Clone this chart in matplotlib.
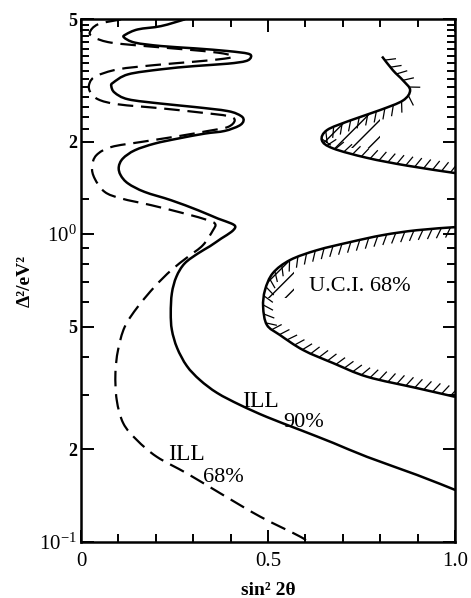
import numpy as np
import matplotlib
matplotlib.use("Agg")
import matplotlib.pyplot as plt
import matplotlib.patheffects as pe
from matplotlib.path import Path
from matplotlib.patches import PathPatch, Rectangle
from matplotlib.ticker import NullFormatter

plt.rcParams['font.family'] = ['Liberation Serif', 'DejaVu Serif']
plt.rcParams['mathtext.fontset'] = 'custom'
plt.rcParams['mathtext.rm'] = 'Liberation Serif'
plt.rcParams['mathtext.it'] = 'Liberation Serif:italic'
plt.rcParams['mathtext.bf'] = 'Liberation Serif:bold'
plt.rcParams['hatch.linewidth'] = 1.0

# ILL 90% (solid)
ill90_x = [0.277, 0.214, 0.152, 0.120, 0.115, 0.144, 0.214, 0.304, 0.393, 0.4465,
           0.4545, 0.441, 0.393, 0.304, 0.214, 0.126, 0.086, 0.081, 0.090, 0.126,
           0.214, 0.304, 0.393, 0.428, 0.4345, 0.4225, 0.384, 0.331, 0.259, 0.197,
           0.144, 0.112, 0.101, 0.106, 0.126, 0.170, 0.241, 0.313, 0.366, 0.402,
           0.4126, 0.402, 0.375, 0.345, 0.313, 0.277, 0.255, 0.243, 0.240, 0.243,
           0.257, 0.283, 0.318, 0.364, 0.425, 0.497, 0.586, 0.674, 0.765, 0.898, 1.0]
ill90_y = [4.99, 4.746, 4.63, 4.46, 4.36, 4.194, 4.088, 4.018, 3.937, 3.861,
           3.765, 3.654, 3.583, 3.519, 3.434, 3.308, 3.108, 3.03, 2.884, 2.744,
           2.657, 2.590, 2.512, 2.421, 2.336, 2.251, 2.165, 2.123, 2.045, 1.970,
           1.874, 1.762, 1.654, 1.555, 1.461, 1.372, 1.289, 1.196, 1.124, 1.083,
           1.056, 1.017, 0.968, 0.914, 0.866, 0.803, 0.727, 0.643, 0.554, 0.488,
           0.4266, 0.3728, 0.3357, 0.3047, 0.2786, 0.2545, 0.2310, 0.2097, 0.1888, 0.165, 0.1475]

# ILL 68% (dashed)
ill68_x = [0.107, 0.0455, 0.0233, 0.0366, 0.080, 0.170, 0.277, 0.366, 0.406, 0.384,
           0.304, 0.197, 0.099, 0.041, 0.0233, 0.0233, 0.0455, 0.099, 0.214, 0.321,
           0.393, 0.411, 0.393, 0.3396, 0.259, 0.161, 0.081, 0.041, 0.0294, 0.0366,
           0.0634, 0.1078, 0.188, 0.277, 0.3396, 0.359, 0.353, 0.326, 0.286, 0.2414,
           0.197, 0.152, 0.117, 0.099, 0.092, 0.0955, 0.113, 0.149, 0.2024, 0.2826,
           0.3717, 0.4786, 0.5856, 0.618]
ill68_y = [4.99, 4.81, 4.52, 4.35, 4.194, 4.088, 3.987, 3.89, 3.793, 3.72,
           3.637, 3.545, 3.434, 3.266, 3.108, 2.919, 2.744, 2.643, 2.565, 2.484,
           2.421, 2.345, 2.231, 2.165, 2.081, 1.994, 1.920, 1.805, 1.654, 1.516,
           1.372, 1.306, 1.242, 1.167, 1.110, 1.078, 1.030, 0.921, 0.844, 0.764,
           0.675, 0.581, 0.500, 0.420, 0.353, 0.289, 0.2428, 0.2144, 0.189, 0.167,
           0.1439, 0.1208, 0.1040, 0.0978]

# U.C.I. 68% upper island
uci_up_x = [0.805, 0.834, 0.861, 0.880, 0.861, 0.799, 0.719, 0.658, 0.644, 0.674,
            0.765, 0.872, 1.0]
uci_up_y = [3.78, 3.41, 3.16, 2.94, 2.72, 2.53, 2.34, 2.18, 2.02, 1.90,
            1.77, 1.67, 1.58]

# U.C.I. 68% lower region
uci_lo_x = [1.0, 0.898, 0.807, 0.719, 0.631, 0.559, 0.513, 0.492, 0.487, 0.497,
            0.532, 0.594, 0.674, 0.765, 0.898, 1.0]
uci_lo_y = [1.054, 1.03, 0.993, 0.942, 0.887, 0.824, 0.747, 0.658, 0.580, 0.507,
            0.470, 0.420, 0.381, 0.344, 0.316, 0.296]

y_major = [0.1, 0.2, 0.5, 1.0, 2.0, 5.0]
y_major_labels = ['10$^{-1}$', '2', '5', '10$^{0}$', '2', '5']
y_minor = [0.3, 0.4, 0.6, 0.7, 0.8, 0.9, 1.3, 2.2, 2.4, 2.6, 2.8, 3.0, 3.2, 3.4,
           3.6, 3.8, 4.0, 4.2, 4.4, 4.6, 4.8]
x_major = [0.0, 0.5, 1.0]
x_major_labels = ['0', '0.5', '1.0']
x_minor = [0.1, 0.2, 0.3, 0.4, 0.6, 0.7, 0.8, 0.9]


def smooth_path(xs, ys, close_right=False):
    # bezier through the read points, built in (x, log y) so it bends like the log axis
    p = np.column_stack([xs, np.log10(ys)])
    p = np.vstack([p[0], p, p[-1]])
    verts = [p[1]]
    codes = [Path.MOVETO]
    for i in range(1, len(p) - 2):
        c1 = p[i] + (p[i + 1] - p[i - 1]) / 6.0
        c2 = p[i + 1] - (p[i + 2] - p[i]) / 6.0
        verts += [c1, c2, p[i + 1]]
        codes += [Path.CURVE4] * 3
    if close_right:
        # shut the region along the right edge of the frame
        verts += [[1.0, p[-1][1]], [1.0, p[1][1]], p[1]]
        codes += [Path.LINETO, Path.LINETO, Path.CLOSEPOLY]
    verts = np.array(verts)
    verts[:, 1] = 10 ** verts[:, 1]
    return Path(verts, codes)


fig = plt.figure(figsize=(4.71, 5.98), dpi=100)
ax = fig.add_axes([0.172, 0.094, 0.794, 0.874])

ax.add_patch(PathPatch(smooth_path(ill90_x, ill90_y), fill=False, ec='black',
                       lw=1.8, capstyle='round', joinstyle='round'))
ax.add_patch(PathPatch(smooth_path(ill68_x, ill68_y), fill=False, ec='black',
                       lw=1.6, linestyle=(0, (7, 3.5))))

hatch = [pe.withTickedStroke(angle=60, spacing=6.5, length=1.25, linewidth=0.9)]
for xs, ys in [(uci_up_x, uci_up_y), (uci_lo_x, uci_lo_y)]:
    ax.add_patch(PathPatch(smooth_path(xs, ys), fill=False, ec='black', lw=1.8,
                           path_effects=hatch, joinstyle='round'))

# long hatch strokes filling the narrow noses
noses = [(uci_up_x, uci_up_y, 0.64, 1.9, 0.16, 0.75),
         (uci_lo_x, uci_lo_y, 0.485, 0.62, 0.085, 0.33)]
for xs, ys, x0, y0, w, h in noses:
    region = PathPatch(smooth_path(xs, ys, close_right=True), facecolor='none',
                       edgecolor='black', lw=0, hatch='//')
    ax.add_patch(region)
    region.set_clip_path(Rectangle((x0, y0), w, h, transform=ax.transData))

ax.text(0.746, 0.678, 'U.C.I. 68%', fontsize=16, ha='center', va='center')
ax.text(0.479, 0.285, 'ILL', fontsize=17, ha='center', va='center')
ax.text(0.594, 0.245, '90%', fontsize=16, ha='center', va='center')
ax.text(0.283, 0.1916, 'ILL', fontsize=17, ha='center', va='center')
ax.text(0.380, 0.1615, '68%', fontsize=16, ha='center', va='center')

ax.set_yscale('log')
ax.set_xlim(0, 1)
ax.set_ylim(0.1, 5)
ax.set_yticks(y_major)
ax.set_yticklabels(y_major_labels)
ax.set_yticks(y_minor, minor=True)
ax.yaxis.set_minor_formatter(NullFormatter())
ax.set_xticks(x_major)
ax.set_xticklabels(x_major_labels, fontsize=15)
ax.set_xticks(x_minor, minor=True)

for lab, txt in zip(ax.get_yticklabels(), y_major_labels):
    if txt.startswith('10'):
        lab.set_fontsize(15)
    else:
        lab.set_fontsize(13)
        lab.set_fontweight('bold')

ax.tick_params(which='both', direction='in', top=True, right=True, width=1.4)
ax.tick_params(which='major', length=9)
ax.tick_params(which='minor', length=6)
ax.tick_params(axis='y', pad=3)
ax.tick_params(axis='x', pad=7)
for s in ax.spines.values():
    s.set_linewidth(1.8)

ax.set_xlabel('sin² 2θ', fontsize=14, fontweight='bold', labelpad=8)
ax.set_ylabel('Δ²/eV²', fontsize=14, fontweight='bold', labelpad=4)

fig.savefig('out.png', dpi=100)
